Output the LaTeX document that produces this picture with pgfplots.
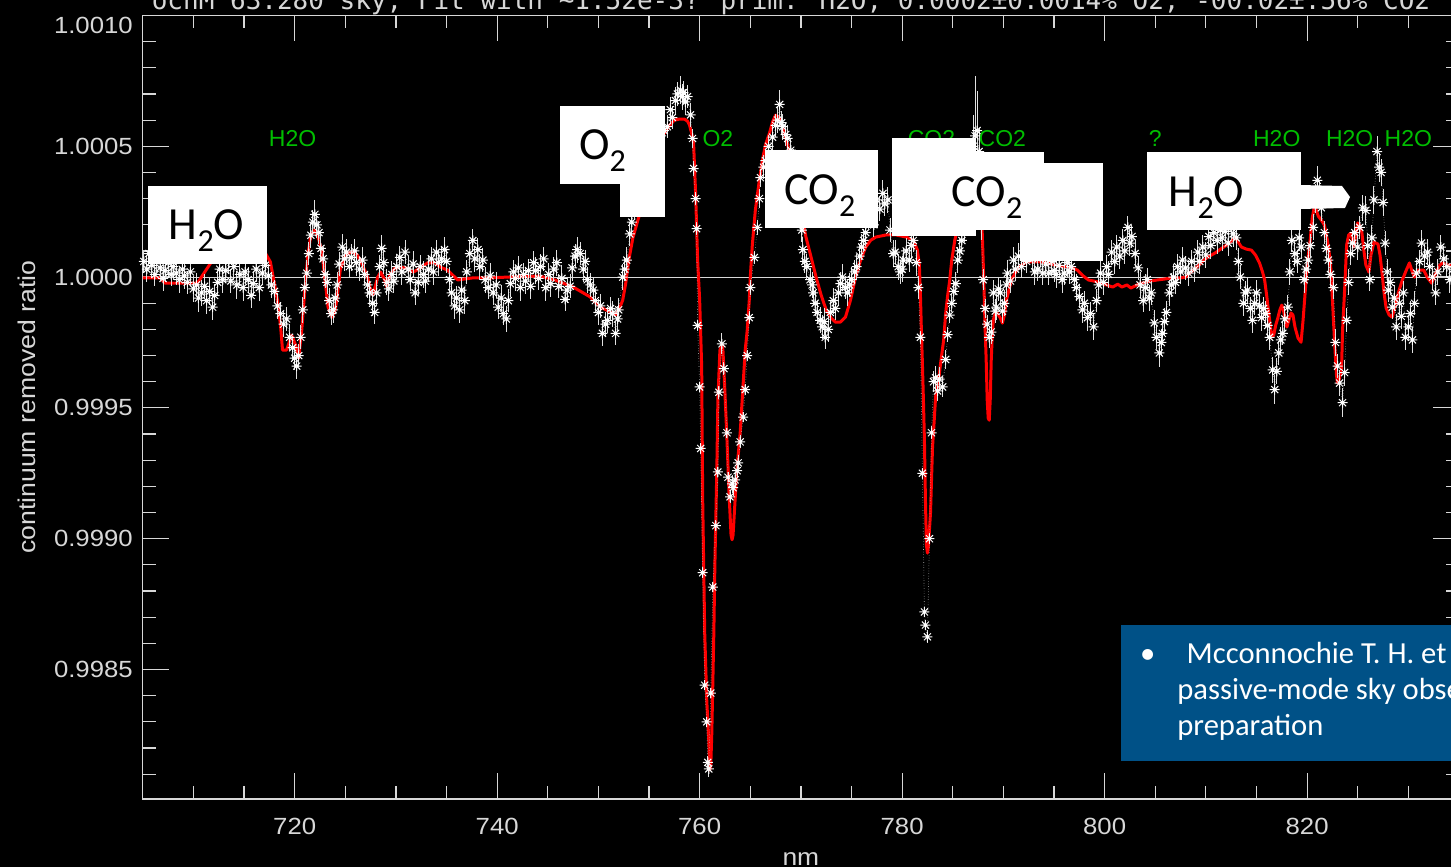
\documentclass[border=0pt]{standalone}
\usepackage{pgfplots}
\pgfplotsset{compat=1.18}
\usepackage{pgfplotstable}
\usepackage{fontspec}
\setmainfont{Liberation Sans}
\newfontfamily\idlsans{Liberation Sans}[FakeStretch=1.1]
\newfontfamily\calibri{Carlito}
\newfontfamily\idlmono{DejaVu Sans Mono}

\definecolor{idlgreen}{RGB}{0,190,0}
\definecolor{notebg}{RGB}{0,81,135}
\definecolor{axisgray}{RGB}{215,215,215}

% The ratios differ from 1 only in the 4th-6th decimal, finer than pgf's
% fixed-point parser keeps.  Each cell is therefore read digit by digit and
% turned into an exact integer count of millionths.
\def\millionths#1.#2\relax{\millionthsdigits#1.#2000000\relax}
\def\millionthsdigits#1.#2#3#4#5#6#7#8\relax{\the\numexpr#1*1000000+1#2#3#4#5#6#7-1000000\relax}
% departure of a ratio from 1, in millionths
\def\deviation#1\relax{\the\numexpr\millionths#1\relax-1000000\relax}

% eight-spoke asterisk, as drawn by the plotting program
\pgfdeclareplotmark{idlstar}{%
  \pgfpathmoveto{\pgfqpoint{-\pgfplotmarksize}{0pt}}\pgfpathlineto{\pgfqpoint{\pgfplotmarksize}{0pt}}%
  \pgfpathmoveto{\pgfqpoint{0pt}{-\pgfplotmarksize}}\pgfpathlineto{\pgfqpoint{0pt}{\pgfplotmarksize}}%
  \pgfpathmoveto{\pgfqpoint{-.707\pgfplotmarksize}{-.707\pgfplotmarksize}}\pgfpathlineto{\pgfqpoint{.707\pgfplotmarksize}{.707\pgfplotmarksize}}%
  \pgfpathmoveto{\pgfqpoint{-.707\pgfplotmarksize}{.707\pgfplotmarksize}}\pgfpathlineto{\pgfqpoint{.707\pgfplotmarksize}{-.707\pgfplotmarksize}}%
  \pgfusepathqstroke}

\newcommand\subtwo{\raisebox{-6pt}{\fontsize{16}{16}\selectfont 2}}
\newcommand\boxlabel{\calibri\fontsize{23}{26}\selectfont}

% observed ratio: wavelength (nm), continuum removed ratio, 1-sigma error
\pgfplotstableread{
x y e
705.1 1.000060 0.000045
705.4 1.000030 0.000050
705.6 1.000090 0.000045
705.9 1.000045 0.000050
706.2 1.000010 0.000045
706.4 1.000070 0.000050
706.7 1.000035 0.000045
707.0 0.999995 0.000050
707.2 1.000025 0.000045
707.5 1.000055 0.000050
707.8 1.000010 0.000045
708.0 1.000040 0.000050
708.3 1.000015 0.000045
708.6 0.999990 0.000050
708.9 1.000030 0.000045
709.1 1.000005 0.000050
709.4 0.999980 0.000045
709.7 1.000020 0.000050
710.0 0.999955 0.000050
710.3 0.999970 0.000045
710.5 0.999920 0.000055
710.8 0.999940 0.000050
711.1 0.999965 0.000045
711.3 0.999910 0.000050
711.6 0.999945 0.000050
711.9 0.999885 0.000050
712.1 0.999930 0.000045
712.4 0.999980 0.000050
712.6 1.000030 0.000045
712.9 0.999990 0.000050
713.2 1.000025 0.000045
713.5 1.000060 0.000050
713.7 0.999985 0.000045
714.0 1.000040 0.000050
714.3 0.999970 0.000055
714.6 1.000010 0.000045
714.9 0.999960 0.000050
715.1 1.000020 0.000045
715.4 0.999990 0.000050
715.7 0.999930 0.000050
715.9 0.999975 0.000045
716.2 1.000030 0.000050
716.5 0.999960 0.000050
716.8 1.000015 0.000045
717.1 1.000045 0.000050
717.4 1.000005 0.000045
717.7 0.999970 0.000050
718.0 0.999945 0.000045
718.3 0.999890 0.000050
718.6 0.999860 0.000045
718.9 0.999820 0.000050
719.2 0.999840 0.000045
719.5 0.999770 0.000050
719.8 0.999730 0.000045
720.0 0.999690 0.000045
720.2 0.999660 0.000050
720.4 0.999700 0.000045
720.6 0.999770 0.000045
720.8 0.999875 0.000050
721.0 0.999960 0.000045
721.2 1.000015 0.000050
721.4 1.000090 0.000045
721.6 1.000160 0.000050
721.8 1.000210 0.000045
722.0 1.000240 0.000055
722.2 1.000200 0.000050
722.4 1.000170 0.000045
722.6 1.000110 0.000050
722.8 1.000070 0.000045
723.0 1.000010 0.000050
723.2 0.999980 0.000045
723.4 0.999910 0.000050
723.6 0.999860 0.000045
723.8 0.999875 0.000050
724.0 0.999920 0.000045
724.2 0.999970 0.000050
724.4 1.000050 0.000045
724.7 1.000115 0.000050
724.9 1.000070 0.000045
725.1 1.000095 0.000050
725.4 1.000040 0.000045
725.6 1.000075 0.000050
725.9 1.000100 0.000045
726.1 1.000055 0.000050
726.4 1.000030 0.000045
726.7 1.000065 0.000050
726.9 1.000010 0.000045
727.2 0.999970 0.000050
727.4 0.999940 0.000045
727.7 0.999900 0.000050
727.9 0.999865 0.000045
728.1 0.999940 0.000050
728.4 1.000040 0.000045
728.6 1.000110 0.000050
728.8 1.000055 0.000045
729.1 0.999980 0.000050
729.3 0.999955 0.000045
729.6 1.000010 0.000050
729.8 0.999985 0.000045
730.1 1.000040 0.000050
730.4 1.000075 0.000045
730.6 1.000020 0.000050
730.9 1.000095 0.000045
731.2 1.000030 0.000050
731.4 0.999990 0.000045
731.7 1.000050 0.000050
731.9 0.999940 0.000045
732.2 0.999980 0.000050
732.4 1.000040 0.000045
732.7 1.000010 0.000050
732.9 0.999985 0.000045
733.2 1.000030 0.000050
733.5 1.000070 0.000045
733.7 1.000020 0.000050
734.0 1.000095 0.000045
734.2 1.000055 0.000050
734.5 1.000070 0.000045
734.8 1.000105 0.000050
735.0 1.000060 0.000045
735.3 0.999990 0.000050
735.5 0.999940 0.000045
735.8 0.999890 0.000050
736.0 0.999920 0.000045
736.3 0.999875 0.000050
736.5 0.999950 0.000045
736.8 0.999910 0.000050
737.0 1.000020 0.000045
737.3 1.000090 0.000050
737.6 1.000140 0.000045
737.8 1.000070 0.000050
738.1 1.000105 0.000045
738.3 1.000040 0.000050
738.6 1.000065 0.000045
738.8 0.999990 0.000050
739.1 0.999960 0.000045
739.3 1.000005 0.000050
739.6 0.999940 0.000045
739.9 0.999970 0.000050
740.1 0.999885 0.000045
740.4 0.999920 0.000050
740.6 0.999860 0.000045
740.9 0.999840 0.000050
741.1 0.999910 0.000045
741.3 0.999975 0.000050
741.6 1.000020 0.000045
741.8 0.999995 0.000050
742.1 1.000035 0.000045
742.3 0.999960 0.000050
742.6 1.000010 0.000045
742.8 0.999985 0.000050
743.1 1.000025 0.000045
743.3 0.999965 0.000050
743.6 1.000055 0.000045
743.8 1.000025 0.000050
744.1 0.999995 0.000045
744.3 1.000040 0.000050
744.6 1.000070 0.000045
744.8 0.999960 0.000050
745.1 1.000010 0.000045
745.3 0.999975 0.000050
745.6 1.000030 0.000045
745.9 1.000055 0.000050
746.1 0.999965 0.000045
746.4 0.999995 0.000050
746.7 0.999915 0.000045
746.9 0.999950 0.000050
747.2 0.999965 0.000045
747.4 1.000035 0.000050
747.7 1.000080 0.000045
747.9 1.000105 0.000050
748.2 1.000090 0.000045
748.5 1.000030 0.000050
748.7 1.000060 0.000045
748.9 0.999990 0.000050
749.2 0.999970 0.000045
749.5 0.999950 0.000050
749.7 0.999910 0.000045
750.0 0.999865 0.000050
750.2 0.999890 0.000045
750.4 0.999785 0.000050
750.7 0.999820 0.000045
750.9 0.999835 0.000050
751.2 0.999880 0.000045
751.4 0.999860 0.000050
751.7 0.999785 0.000045
751.9 0.999840 0.000050
752.0 0.999875 0.000045
752.4 1.000000 0.000050
752.6 1.000030 0.000045
752.8 1.000065 0.000050
753.1 1.000165 0.000045
753.3 1.000210 0.000050
753.6 1.000265 0.000045
753.9 1.000320 0.000050
754.1 1.000345 0.000045
754.5 1.000380 0.000050
754.8 1.000410 0.000045
755.2 1.000460 0.000050
755.5 1.000480 0.000045
755.8 1.000515 0.000050
756.2 1.000540 0.000045
756.5 1.000560 0.000050
756.8 1.000575 0.000045
757.1 1.000640 0.000050
757.3 1.000610 0.000045
757.6 1.000675 0.000050
757.8 1.000700 0.000045
758.1 1.000715 0.000055
758.3 1.000690 0.000050
758.4 1.000705 0.000045
758.6 1.000670 0.000050
758.8 1.000690 0.000045
759.1 1.000620 0.000045
759.3 1.000530 0.000035
759.4 1.000415 0.000030
759.6 1.000300 0.000025
759.7 1.000185 0.000025
759.8 0.999815 0.000020
760.0 0.999580 0.000020
760.1 0.999345 0.000020
760.3 0.998870 0.000020
760.5 0.998440 0.000020
760.7 0.998300 0.000015
760.8 0.998145 0.000025
760.9 0.998120 0.000030
761.1 0.998410 0.000020
761.3 0.998815 0.000020
761.6 0.999050 0.000020
761.8 0.999255 0.000020
761.9 0.999560 0.000025
762.2 0.999745 0.000040
762.4 0.999650 0.000025
762.7 0.999405 0.000020
762.8 0.999235 0.000020
763.0 0.999160 0.000025
763.2 0.999210 0.000035
763.3 0.999195 0.000030
763.5 0.999225 0.000030
763.7 0.999260 0.000025
763.8 0.999290 0.000030
764.0 0.999370 0.000025
764.3 0.999465 0.000020
764.5 0.999570 0.000020
764.7 0.999700 0.000020
764.9 0.999845 0.000025
765.0 0.999960 0.000030
765.4 1.000075 0.000025
765.7 1.000190 0.000030
765.9 1.000300 0.000035
766.0 1.000380 0.000035
766.3 1.000420 0.000045
766.5 1.000445 0.000040
766.8 1.000500 0.000045
767.2 1.000535 0.000050
767.5 1.000580 0.000045
767.7 1.000600 0.000050
767.9 1.000660 0.000055
768.1 1.000590 0.000045
768.2 1.000575 0.000050
768.5 1.000545 0.000045
768.7 1.000530 0.000050
769.0 1.000485 0.000045
769.3 1.000440 0.000050
769.6 1.000380 0.000045
769.9 1.000290 0.000050
770.1 1.000180 0.000045
770.2 1.000105 0.000050
770.4 1.000060 0.000045
770.6 1.000040 0.000050
770.9 0.999990 0.000045
771.1 0.999970 0.000050
771.2 0.999940 0.000045
771.4 0.999900 0.000050
771.6 0.999865 0.000045
771.9 0.999835 0.000050
772.1 0.999810 0.000045
772.3 0.999830 0.000050
772.4 0.999770 0.000045
772.7 0.999800 0.000050
772.9 0.999865 0.000045
773.2 0.999910 0.000050
773.4 0.999880 0.000045
773.7 0.999940 0.000050
773.9 0.999975 0.000045
774.1 1.000000 0.000050
774.4 0.999960 0.000045
774.6 0.999940 0.000050
774.8 0.999970 0.000045
775.0 0.999990 0.000050
775.3 1.000020 0.000045
775.5 1.000040 0.000050
775.8 1.000080 0.000045
776.0 1.000115 0.000050
776.2 1.000140 0.000045
776.4 1.000170 0.000050
776.7 1.000230 0.000045
777.0 1.000250 0.000050
777.2 1.000200 0.000045
777.5 1.000295 0.000050
777.8 1.000260 0.000045
778.1 1.000320 0.000050
778.3 1.000280 0.000045
778.6 1.000295 0.000050
778.8 1.000180 0.000045
779.1 1.000090 0.000050
779.3 1.000095 0.000045
779.6 1.000040 0.000050
779.8 1.000020 0.000045
780.0 1.000030 0.000050
780.1 1.000065 0.000045
780.4 1.000100 0.000050
780.7 1.000065 0.000045
780.9 1.000120 0.000050
781.1 1.000140 0.000045
781.4 1.000055 0.000050
781.6 0.999960 0.000045
781.8 0.999770 0.000025
782.0 0.999250 0.000020
782.2 0.998720 0.000020
782.3 0.998670 0.000020
782.5 0.998625 0.000025
782.7 0.999000 0.000020
782.9 0.999405 0.000025
783.1 0.999600 0.000040
783.3 0.999615 0.000045
783.5 0.999565 0.000040
783.7 0.999610 0.000045
784.0 0.999580 0.000040
784.3 0.999685 0.000035
784.5 0.999780 0.000030
784.7 0.999855 0.000030
784.9 0.999900 0.000035
785.1 0.999945 0.000040
785.3 0.999975 0.000045
785.5 1.000065 0.000050
785.7 1.000100 0.000045
785.9 1.000140 0.000050
786.2 1.000180 0.000045
786.5 1.000250 0.000050
786.8 1.000330 0.000060
787.0 1.000500 0.000120
787.2 1.000540 0.000230
787.4 1.000560 0.000150
787.6 1.000480 0.000090
787.8 1.000200 0.000060
788.0 0.999990 0.000040
788.2 0.999880 0.000035
788.4 0.999820 0.000035
788.6 0.999770 0.000040
788.8 0.999790 0.000045
789.0 0.999940 0.000050
789.2 0.999870 0.000045
789.3 0.999885 0.000050
789.5 0.999955 0.000045
789.7 0.999940 0.000050
789.9 0.999870 0.000045
790.1 0.999900 0.000050
790.3 0.999970 0.000045
790.4 1.000015 0.000050
790.7 0.999985 0.000045
791.0 1.000065 0.000050
791.2 1.000030 0.000045
791.5 1.000080 0.000050
791.8 1.000040 0.000045
792.0 1.000100 0.000050
792.3 1.000060 0.000045
792.6 1.000130 0.000050
792.9 1.000070 0.000045
793.1 1.000020 0.000050
793.4 1.000030 0.000045
793.7 1.000090 0.000050
793.9 1.000015 0.000045
794.2 1.000050 0.000050
794.5 1.000015 0.000045
794.8 1.000060 0.000050
795.0 1.000025 0.000045
795.2 1.000010 0.000050
795.5 1.000045 0.000045
795.8 0.999990 0.000050
796.0 1.000015 0.000045
796.3 1.000055 0.000050
796.5 1.000020 0.000045
796.7 1.000040 0.000050
797.0 0.999990 0.000045
797.2 0.999960 0.000050
797.5 0.999925 0.000045
797.8 0.999875 0.000050
798.0 0.999900 0.000045
798.3 0.999845 0.000050
798.6 0.999860 0.000045
798.9 0.999810 0.000050
799.2 0.999910 0.000045
799.4 0.999970 0.000050
799.6 1.000015 0.000045
799.9 0.999980 0.000050
800.2 1.000040 0.000045
800.4 1.000010 0.000050
800.7 1.000095 0.000045
801.0 1.000060 0.000050
801.2 1.000115 0.000045
801.5 1.000080 0.000050
801.8 1.000140 0.000045
802.0 1.000100 0.000050
802.3 1.000190 0.000045
802.5 1.000130 0.000050
802.7 1.000155 0.000045
803.0 1.000090 0.000050
803.3 1.000035 0.000045
803.5 0.999970 0.000050
803.8 0.999910 0.000045
804.0 0.999960 0.000050
804.2 0.999990 0.000045
804.4 0.999920 0.000050
804.6 0.999940 0.000045
804.9 0.999825 0.000050
805.1 0.999770 0.000045
805.4 0.999710 0.000055
805.6 0.999750 0.000050
805.7 0.999785 0.000045
805.9 0.999830 0.000050
806.1 0.999865 0.000045
806.4 0.999940 0.000050
806.6 0.999970 0.000045
806.8 1.000000 0.000050
807.0 0.999980 0.000045
807.2 1.000040 0.000050
807.5 1.000020 0.000045
807.7 1.000065 0.000050
808.0 1.000035 0.000045
808.3 1.000015 0.000050
808.6 1.000060 0.000045
808.9 1.000030 0.000050
809.2 1.000095 0.000045
809.4 1.000060 0.000050
809.7 1.000115 0.000045
810.0 1.000085 0.000050
810.3 1.000155 0.000045
810.5 1.000120 0.000050
810.8 1.000170 0.000045
811.1 1.000140 0.000050
811.4 1.000180 0.000045
811.6 1.000150 0.000050
811.9 1.000175 0.000045
812.2 1.000130 0.000050
812.5 1.000190 0.000045
812.7 1.000165 0.000050
813.0 1.000150 0.000045
813.2 1.000060 0.000050
813.4 1.000000 0.000045
813.7 0.999900 0.000050
813.9 0.999940 0.000045
814.1 0.999950 0.000050
814.4 0.999880 0.000045
814.6 0.999835 0.000050
814.8 0.999900 0.000045
815.0 0.999940 0.000050
815.3 0.999890 0.000045
815.5 0.999845 0.000050
815.7 0.999880 0.000045
815.9 0.999860 0.000050
816.1 0.999815 0.000045
816.3 0.999770 0.000050
816.6 0.999645 0.000050
816.8 0.999570 0.000055
817.0 0.999640 0.000050
817.2 0.999710 0.000045
817.4 0.999760 0.000050
817.6 0.999785 0.000045
817.8 0.999840 0.000050
818.1 0.999885 0.000045
818.3 1.000020 0.000050
818.5 1.000140 0.000045
818.8 1.000090 0.000050
819.0 1.000060 0.000045
819.2 1.000150 0.000050
819.4 1.000115 0.000045
819.7 0.999990 0.000050
819.9 1.000030 0.000045
820.1 1.000065 0.000050
820.3 1.000120 0.000045
820.6 1.000190 0.000050
820.8 1.000300 0.000055
821.0 1.000370 0.000055
821.2 1.000320 0.000050
821.4 1.000265 0.000050
821.7 1.000170 0.000045
821.9 1.000110 0.000050
822.1 1.000065 0.000045
822.3 1.000010 0.000050
822.6 0.999960 0.000045
822.8 0.999750 0.000050
823.0 0.999660 0.000045
823.2 0.999595 0.000050
823.5 0.999520 0.000055
823.7 0.999635 0.000050
823.9 0.999835 0.000045
824.1 0.999980 0.000050
824.3 1.000090 0.000045
824.5 1.000130 0.000050
824.7 1.000170 0.000045
825.0 1.000115 0.000050
825.2 1.000190 0.000045
825.5 1.000265 0.000050
825.8 1.000255 0.000055
826.0 1.000120 0.000050
826.2 0.999990 0.000045
826.4 1.000150 0.000050
826.6 1.000295 0.000055
826.9 1.000480 0.000060
827.1 1.000420 0.000055
827.3 1.000400 0.000050
827.5 1.000285 0.000050
827.7 1.000130 0.000045
827.9 1.000020 0.000050
828.0 0.999950 0.000045
828.2 0.999980 0.000050
828.4 0.999885 0.000045
828.6 0.999920 0.000050
828.8 0.999810 0.000050
829.1 0.999900 0.000045
829.3 0.999850 0.000050
829.5 0.999940 0.000045
829.7 0.999770 0.000050
830.0 0.999810 0.000045
830.2 0.999860 0.000050
830.4 0.999760 0.000050
830.6 0.999900 0.000045
830.8 1.000015 0.000050
831.1 1.000060 0.000045
831.3 1.000130 0.000050
831.6 1.000080 0.000045
831.9 1.000095 0.000050
832.1 1.000040 0.000045
832.4 1.000000 0.000050
832.7 0.999940 0.000045
832.9 1.000020 0.000050
833.2 1.000115 0.000045
833.5 1.000070 0.000050
833.8 1.000040 0.000045
834.1 0.999990 0.000050
834.4 1.000030 0.000045
834.7 0.999980 0.000050
}\obsdata

% fitted model ratio: wavelength (nm), ratio
\pgfplotstableread{
x y
705.0 0.999997
706.7 0.999997
707.2 0.999977
710.4 0.999977
710.6 0.999989
711.9 1.000065
714.6 1.000141
717.1 1.000092
717.6 1.000058
718.3 0.999912
718.6 0.999817
718.8 0.999721
719.2 0.999721
719.7 0.999778
720.1 0.999740
720.4 0.999690
720.7 0.999798
721.0 0.999950
721.3 1.000084
721.6 1.000161
722.0 1.000180
722.4 1.000141
722.7 1.000092
723.0 0.999989
723.3 0.999885
723.7 0.999847
724.0 0.999874
724.2 0.999924
724.5 1.000027
724.9 1.000073
725.3 1.000092
725.7 1.000096
726.2 1.000084
726.7 1.000046
727.2 1.000000
727.5 0.999950
727.7 0.999931
728.0 0.999970
728.2 1.000000
728.5 1.000019
728.9 0.999989
729.1 0.999962
729.4 1.000008
729.9 1.000034
730.4 1.000038
731.1 1.000034
731.7 1.000019
732.4 1.000034
733.1 1.000054
733.9 1.000054
734.4 1.000038
735.1 1.000027
735.6 1.000008
736.1 0.999989
736.8 0.999993
737.6 0.999997
739.3 0.999997
741.0 1.000000
744.2 1.000004
745.7 0.999989
747.5 0.999962
749.2 0.999924
750.2 0.999885
751.2 0.999866
751.7 0.999855
752.1 0.999882
752.4 0.999912
752.7 0.999977
753.0 1.000065
753.4 1.000149
753.9 1.000218
754.7 1.000313
755.7 1.000447
756.4 1.000543
756.9 1.000574
757.5 1.000600
758.0 1.000604
758.5 1.000604
758.8 1.000596
759.0 1.000581
759.2 1.000551
759.4 1.000512
759.6 1.000321
759.8 1.000065
760.0 0.999912
760.2 0.999656
760.3 0.999148
760.5 0.998639
760.7 0.998383
760.9 0.998230
761.0 0.998116
761.1 0.998135
761.2 0.998257
761.3 0.998448
761.4 0.998639
761.5 0.998892
761.7 0.999274
761.8 0.999530
762.0 0.999721
762.2 0.999740
762.3 0.999721
762.5 0.999557
762.7 0.999377
762.9 0.999174
763.1 0.999014
763.2 0.998996
763.3 0.999014
763.5 0.999148
763.7 0.999274
764.0 0.999403
764.2 0.999530
764.5 0.999721
764.7 0.999798
764.9 0.999912
765.0 1.000000
765.2 1.000122
765.5 1.000256
765.9 1.000371
766.2 1.000447
766.5 1.000505
766.9 1.000551
767.2 1.000593
767.5 1.000619
767.8 1.000612
768.2 1.000574
768.7 1.000505
769.2 1.000409
769.9 1.000275
770.5 1.000153
771.0 1.000077
771.5 1.000000
772.0 0.999931
772.5 0.999874
773.0 0.999843
773.4 0.999828
773.9 0.999828
774.4 0.999847
774.9 0.999912
775.4 1.000000
775.9 1.000065
776.4 1.000115
776.9 1.000141
777.4 1.000153
778.4 1.000161
779.4 1.000161
780.4 1.000153
781.1 1.000141
781.5 1.000104
781.7 1.000046
781.8 0.999939
781.9 0.999797
782.0 0.999671
782.1 0.999530
782.2 0.999377
782.3 0.999148
782.4 0.998975
782.5 0.998945
782.6 0.998975
782.8 0.999098
782.9 0.999224
783.0 0.999350
783.2 0.999473
783.3 0.999542
783.6 0.999607
783.8 0.999671
784.1 0.999759
784.3 0.999863
784.5 0.999931
784.7 0.999989
784.9 1.000065
785.2 1.000141
785.5 1.000191
786.0 1.000229
786.5 1.000294
787.2 1.000275
787.7 1.000218
787.9 1.000180
788.0 1.000065
788.1 0.999939
788.2 0.999797
788.3 0.999683
788.4 0.999530
788.5 0.999461
788.6 0.999453
788.7 0.999530
788.8 0.999683
788.9 0.999778
789.0 0.999836
789.2 0.999862
789.4 0.999862
789.7 0.999843
789.9 0.999824
790.1 0.999855
790.3 0.999912
790.6 0.999958
790.8 0.999989
791.2 1.000019
791.5 1.000038
792.3 1.000058
793.7 1.000058
794.7 1.000050
795.6 1.000042
796.5 1.000038
797.3 1.000027
797.9 1.000004
798.4 0.999989
799.4 0.999981
800.2 0.999970
800.8 0.999962
801.3 0.999973
801.7 0.999962
802.2 0.999970
802.6 0.999958
803.2 0.999970
803.7 0.999977
804.5 0.999985
805.2 0.999989
806.0 0.999993
806.6 0.999997
807.5 0.999997
808.0 1.000000
808.5 1.000019
809.1 1.000038
809.7 1.000061
810.2 1.000077
810.9 1.000092
811.6 1.000111
812.2 1.000126
812.6 1.000141
812.9 1.000153
813.2 1.000134
813.5 1.000115
814.0 1.000107
814.5 1.000103
814.9 1.000084
815.3 1.000054
815.6 1.000019
815.8 0.999989
816.0 0.999931
816.2 0.999866
816.4 0.999805
816.5 0.999771
816.7 0.999778
816.9 0.999817
817.1 0.999843
817.3 0.999874
817.5 0.999893
817.7 0.999866
818.0 0.999809
818.2 0.999836
818.4 0.999863
818.6 0.999855
818.8 0.999809
819.1 0.999767
819.4 0.999751
819.6 0.999836
819.8 0.999939
820.0 1.000046
820.3 1.000141
820.5 1.000225
820.7 1.000267
820.9 1.000256
821.1 1.000233
821.4 1.000218
821.7 1.000199
822.0 1.000141
822.3 1.000058
822.5 0.999912
822.7 0.999759
822.9 0.999625
823.0 0.999595
823.2 0.999614
823.4 0.999652
823.5 0.999798
823.7 0.999950
823.9 1.000122
824.1 1.000161
824.3 1.000168
824.5 1.000141
824.6 1.000115
824.8 1.000161
825.0 1.000207
825.2 1.000195
825.4 1.000172
825.6 1.000103
825.8 1.000046
826.1 1.000019
826.3 1.000084
826.6 1.000134
827.0 1.000126
827.2 1.000084
827.4 1.000015
827.6 0.999939
827.8 0.999882
828.1 0.999855
828.4 0.999847
828.7 0.999889
829.0 0.999939
829.4 0.999989
829.8 1.000027
830.1 1.000054
830.4 1.000019
830.6 1.000000
831.0 1.000027
831.5 1.000027
831.9 0.999997
832.3 0.999977
832.7 1.000015
833.1 1.000046
833.4 1.000054
833.9 1.000046
834.4 1.000046
835.0 1.000035
}\modeldata

% exact integer columns: ratio - 1 and error, both in millionths
\pgfplotstablecreatecol[create col/assign/.code={%
  \getthisrow{y}\cellin
  \edef\cellout{\expandafter\deviation\cellin\relax}%
  \pgfkeyslet{/pgfplots/table/create col/next content}\cellout}]{dev}\obsdata
\pgfplotstablecreatecol[create col/assign/.code={%
  \getthisrow{e}\cellin
  \edef\cellout{\expandafter\millionths\cellin\relax}%
  \pgfkeyslet{/pgfplots/table/create col/next content}\cellout}]{err}\obsdata
\pgfplotstablecreatecol[create col/assign/.code={%
  \getthisrow{y}\cellin
  \edef\cellout{\expandafter\deviation\cellin\relax}%
  \pgfkeyslet{/pgfplots/table/create col/next content}\cellout}]{dev}\modeldata

\begin{document}
\begin{tikzpicture}[x=1pt,y=1pt]
% black page
\fill[black] (-71.4,-34) rectangle (654.1,399.5);
\begin{axis}[
  at={(0,0)}, anchor=south west,
  scale only axis, width=658.1pt, height=391.75pt,
  xmin=705, xmax=835,
  % y runs in millionths away from a ratio of 1
  ymin=-1995, ymax=1000,
  xtick={720,740,760,780,800,820},
  minor xtick={710,715,725,730,735,745,750,755,765,770,775,785,790,795,805,810,815,825,830},
  ytick={-1500,-1000,-500,0,500,1000},
  yticklabels={0.9985,0.9990,0.9995,1.0000,1.0005,\raisebox{-8.8pt}[0pt][0pt]{1.0010}},
  minor ytick={-1900,-1800,-1700,-1600,-1400,-1300,-1200,-1100,-900,-800,-700,-600,-400,-300,-200,-100,100,200,300,400,600,700,800,900},
  major tick length=13pt, minor tick length=6.5pt,
  every tick/.style={axisgray, line width=0.6pt},
  axis line style={axisgray, line width=0.65pt},
  tick label style={font=\idlsans\fontsize{11.7}{12}\selectfont, text=axisgray},
  /pgf/number format/assume math mode=true,
  xticklabel shift=6pt, yticklabel shift=1.5pt,
  xlabel={nm},
  xlabel style={at={(axis description cs:0.5,-0.0772)}, anchor=center, font=\idlsans\fontsize{12}{12}\selectfont, text=axisgray},
  ylabel={continuum removed ratio},
  ylabel style={at={(axis description cs:-0.0880,0.5)}, anchor=center, font=\idlsans\fontsize{12.1}{12}\selectfont, text=axisgray},
  title={ocnM 63.280 sky, Fit with \textasciitilde1.52e-3? prim: H2O, 0.0002±0.0014\% O2, -00.02±.56\% CO2},
  every axis title/.style={at={(axis description cs:0.4925,1.0080)}, anchor=base, font=\idlmono\fontsize{13}{13}\selectfont, text=axisgray},
]
% unit ratio reference line
\addplot[axisgray, line width=0.5pt] coordinates {(705,0) (835,0)};
% absorption features
\begin{scope}[every node/.style={text=idlgreen, font=\fontsize{11.5}{12}\selectfont, inner sep=0pt}]
\node at (axis cs:719.8,528) {H2O};
\node at (axis cs:761.8,528) {O2};
\node at (axis cs:782.9,528) {CO2};
\node at (axis cs:789.9,528) {CO2};
\node at (axis cs:805.0,528) {?};
\node at (axis cs:817.0,528) {H2O};
\node at (axis cs:824.2,528) {H2O};
\node at (axis cs:830.0,528) {H2O};
\end{scope}
% model fit
\addplot[red, line width=1.5pt, line join=round, no markers] table[x=x, y=dev] {\modeldata};
% observations with error bars
\addplot[white!70!black, line width=0.3pt, densely dotted,
  mark=idlstar, mark size=2.5pt, mark options={solid, draw=white, line width=0.5pt},
  error bars/.cd, y dir=both, y explicit,
  error bar style={solid, white!88!black, line width=0.5pt}, error mark=none]
  table[x=x, y=dev, y error=err] {\obsdata};
\end{axis}
% slide call-outs
\fill[white] (2.6,267.5) rectangle (62.1,306.5);
\node[anchor=base, inner sep=0pt] at (31.9,279.5) {\boxlabel H\subtwo O};
\fill[white] (208.6,307.5) rectangle (261.1,346.5);
\fill[white] (238.6,291) rectangle (261.1,308);
\node[anchor=base, inner sep=0pt] at (229.9,319.5) {\boxlabel O\subtwo};
\fill[white] (311.1,285.5) rectangle (367.6,324.5);
\node[anchor=base, inner sep=0pt] at (338.6,297) {\boxlabel CO\subtwo};
\fill[white] (374.6,281.5) rectangle (416.6,330.5);
\fill[white] (374.6,284.5) rectangle (450.6,323.5);
\fill[white] (438.6,269) rectangle (480.1,318);
\node[anchor=base, inner sep=0pt] at (422.1,296) {\boxlabel CO\subtwo};
\fill[white] (502.1,284.5) rectangle (579.1,323.5);
\fill[white] (578.5,307) -- (599.6,306.5) -- (603.6,301) -- (601.1,295.5) -- (578.5,295) -- cycle;
\node[anchor=base, inner sep=0pt] at (531.9,296) {\boxlabel H\subtwo O};
% reference note
\fill[notebg] (489.1,19) rectangle (665,87);
\begin{scope}[every node/.style={anchor=base west, inner sep=0pt, text=white, font=\calibri\fontsize{15.3}{18}\selectfont}]
\node at (498.4,67.5) {•};
\node at (518.3,67.5) {\ Mcconnochie T. H. et al., ChemCam};
\node at (517.1,49.5) {passive-mode sky observations, in};
\node at (517.1,31.5) {preparation};
\end{scope}
\pgfresetboundingbox
\useasboundingbox (-71.4,-34) rectangle (654.1,399.5);
\end{tikzpicture}
\end{document}
